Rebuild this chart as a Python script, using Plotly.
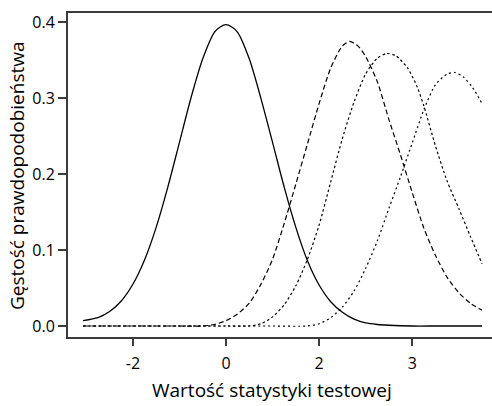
import plotly.graph_objects as go

# Solid curve (null distribution)
x_null = [-3.07, -2.75, -2.5, -2.25, -2.0, -1.75, -1.5, -1.25, -1.0, -0.75, -0.5, -0.25, -0.125, 0.0, 0.125,
          0.25, 0.5, 0.75, 1.0, 1.25, 1.5, 1.75, 2.0, 2.25, 2.5, 2.75, 3.0, 3.25, 3.5, 4.0, 4.5, 5.0, 5.5]
y_null = [0.007, 0.011, 0.019, 0.033, 0.055, 0.087, 0.130, 0.183, 0.242, 0.301, 0.352, 0.387, 0.394, 0.397, 0.394,
          0.387, 0.352, 0.300, 0.242, 0.183, 0.130, 0.086, 0.054, 0.032, 0.018, 0.009, 0.004, 0.002, 0.001, 0.0, 0.0, 0.0, 0.0]

# Dashed curve
x_alt1 = [-3.07, -1.0, -0.5, -0.25, 0.0, 0.25, 0.5, 0.75, 1.0, 1.25, 1.5, 1.75, 2.0, 2.25, 2.5, 2.66,
          2.85, 3.0, 3.25, 3.5, 3.75, 4.0, 4.25, 4.5, 4.75, 5.0, 5.25, 5.5]
y_alt1 = [0.0, 0.0, 0.0, 0.002, 0.007, 0.016, 0.030, 0.055, 0.088, 0.135, 0.187, 0.240, 0.293, 0.340, 0.369, 0.375,
          0.368, 0.355, 0.322, 0.272, 0.225, 0.176, 0.129, 0.093, 0.064, 0.044, 0.030, 0.021]

# Dotted curve (middle)
x_alt2 = [-3.07, 0.0, 0.5, 0.75, 1.0, 1.25, 1.5, 1.75, 2.0, 2.25, 2.5, 2.75, 3.0, 3.25, 3.45, 3.65,
          3.9, 4.1, 4.25, 4.5, 4.75, 5.0, 5.25, 5.5]
y_alt2 = [0.0, 0.0, 0.0, 0.003, 0.012, 0.028, 0.053, 0.088, 0.133, 0.190, 0.247, 0.295, 0.332, 0.353, 0.359, 0.356,
          0.340, 0.316, 0.290, 0.237, 0.191, 0.155, 0.118, 0.082]

# Dotted curve (right)
x_alt3 = [-3.07, 0.0, 1.0, 1.75, 2.0, 2.25, 2.5, 2.75, 3.0, 3.25, 3.5, 3.75, 4.0, 4.25, 4.5, 4.75,
          4.92, 5.1, 5.3, 5.5]
y_alt3 = [0.0, 0.0, 0.0, 0.0, 0.003, 0.011, 0.025, 0.046, 0.076, 0.112, 0.155, 0.197, 0.241, 0.285, 0.318, 0.332,
          0.334, 0.328, 0.314, 0.293]

x_tick_vals = [-2, 0, 2, 4]
x_tick_text = ["-2", "0", "2", "3"]
y_tick_vals = [0.0, 0.1, 0.2, 0.3, 0.4]

FONT = "Open Sans"

fig = go.Figure()
series = [
    (x_alt3, y_alt3, dict(color="black", width=1.2, dash="2px,3px")),
    (x_alt2, y_alt2, dict(color="black", width=1.2, dash="2.5px,2.5px")),
    (x_alt1, y_alt1, dict(color="black", width=1.2, dash="5px,3px")),
    (x_null, y_null, dict(color="black", width=1.3)),
]
for xs, ys, ln in series:
    fig.add_trace(go.Scatter(x=xs, y=ys, mode="lines", line=dict(shape="spline", smoothing=0.7, **ln),
                             showlegend=False, hoverinfo="skip"))

fig.update_layout(
    width=492, height=406,
    margin=dict(l=68, r=0, t=13, b=69),
    paper_bgcolor="white", plot_bgcolor="white",
    font=dict(family=FONT, color="black", size=16),
    xaxis=dict(range=[-3.394, 5.714], tickvals=x_tick_vals, ticktext=x_tick_text,
               showgrid=False, zeroline=False, showline=True, linecolor="#3c3c3c", linewidth=2,
               mirror=True, ticks="outside", ticklen=7, tickwidth=1.5, tickcolor="#3c3c3c",
               ticklabelstandoff=4, tickfont=dict(size=16, family=FONT)),
    yaxis=dict(range=[-0.0145, 0.4124], tickvals=y_tick_vals, tickformat=".1f",
               showgrid=False, zeroline=False, showline=True, linecolor="#3c3c3c", linewidth=2,
               ticks="outside", ticklen=8, tickwidth=1.5, tickcolor="#3c3c3c",
               tickfont=dict(size=16, family=FONT)),
    annotations=[
        dict(text="Wartość statystyki testowej", xref="paper", yref="paper",
             x=(272 - 68) / 424, y=(337 - 390) / 324, xanchor="center", yanchor="middle",
             showarrow=False, font=dict(size=19, family=FONT)),
        dict(text="Gęstość prawdopodobieństwa", xref="paper", yref="paper",
             x=(17 - 68) / 424, y=(337 - 176) / 324, xanchor="center", yanchor="middle",
             textangle=-90, showarrow=False, font=dict(size=19, family=FONT)),
    ],
)

fig.write_html("out.html")
